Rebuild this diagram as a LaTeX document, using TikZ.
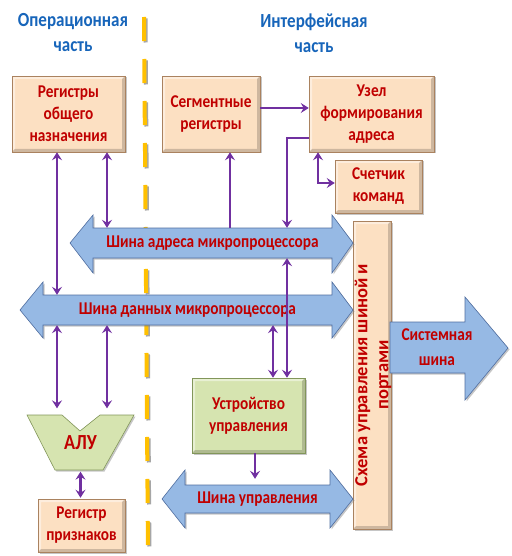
\documentclass[tikz,border=0pt]{standalone}
\usepackage{fontspec}
\setmainfont{Carlito}
\newfontfamily\narrowfont{Carlito}[FakeStretch=0.85]
\usetikzlibrary{shadows,arrows.meta,calc}
\definecolor{peach}{RGB}{252,224,194}
\definecolor{peachedge}{RGB}{170,130,95}
\definecolor{leaf}{RGB}{214,228,176}
\definecolor{leafedge}{RGB}{130,150,90}
\definecolor{busblue}{RGB}{150,185,228}
\definecolor{busedge}{RGB}{80,110,160}
\definecolor{txtred}{RGB}{192,0,0}
\definecolor{ttlblue}{RGB}{23,101,186}
\definecolor{arrpurple}{RGB}{112,48,160}
\definecolor{dashorange}{RGB}{255,192,0}
\tikzset{
  bevel/.style={path picture={
    \path (path picture bounding box.north west) coordinate (pNW)
          (path picture bounding box.south east) coordinate (pSE)
          (path picture bounding box.north east) coordinate (pNE)
          (path picture bounding box.south west) coordinate (pSW);
    \fill[white,opacity=0.45] (pSW) -- (pNW) -- (pNE) -- ([shift={(-3pt,-3pt)}]pNE) -- ([shift={(3pt,-3pt)}]pNW) -- ([shift={(3pt,3pt)}]pSW) -- cycle;
    \fill[black,opacity=0.18] (pSW) -- (pSE) -- (pNE) -- ([shift={(-3pt,-3pt)}]pNE) -- ([shift={(-3pt,3pt)}]pSE) -- ([shift={(3pt,3pt)}]pSW) -- cycle;
  }},
  boxtext/.style={text=txtred, align=center, font=\narrowfont\fontsize{18}{22}\selectfont\bfseries},
  peachbox/.style={rectangle, fill=peach, draw=peachedge, line width=0.5pt, bevel, boxtext,
    drop shadow={shadow xshift=1.5pt, shadow yshift=-1.5pt, opacity=0.45}},
  greenbox/.style={peachbox, fill=leaf, draw=leafedge},
  busbody/.style={rectangle, inner sep=0pt, boxtext},
  busshape/.style={fill=busblue, draw=busedge, line width=0.6pt,
    drop shadow={shadow xshift=1.5pt, shadow yshift=-1.5pt, opacity=0.45}},
  title/.style={text=ttlblue, align=center, font=\narrowfont\fontsize{20}{25}\selectfont\bfseries},
  link/.style={draw=arrpurple, line width=2.5pt},
  onearr/.style={link, -{Stealth[length=8pt,width=10pt,inset=3pt]}},
  biarr/.style={link, {Stealth[length=8pt,width=10pt,inset=3pt]}-{Stealth[length=8pt,width=10pt,inset=3pt]}},
  revarr/.style={link, {Stealth[length=8pt,width=10pt,inset=3pt]}-},
}
\begin{document}
\begin{tikzpicture}[x=1pt,y=-1pt]
\useasboundingbox (0,0) rectangle (511,556);
% column / row coordinates for connectors
\coordinate (x57) at (57,0);
\coordinate (x107) at (107,0);
\coordinate (x230) at (230,0);
\coordinate (x255) at (255,0);
\coordinate (x273) at (273,0);
\coordinate (x287) at (287,0);
\coordinate (x318) at (318,0);
\coordinate (y108) at (0,108);
\coordinate (y138) at (0,138);
\coordinate (y183) at (0,183);

% titles
\node[title] (t1) at (73,33) {Операционная\\часть};
\node[title] (t2) at (314,33) {Интерфейсная\\часть};

% dashed divider
\coordinate (dtop) at (144,17);
\coordinate (dbot) at (148,556);
\draw[black!35, line width=4pt, dash pattern=on 24pt off 18pt] ([shift={(1.5pt,-1.5pt)}]dtop) -- ([shift={(1.5pt,-1.5pt)}]dbot);
\draw[dashorange, line width=4pt, dash pattern=on 24pt off 18pt] (dtop) -- (dbot);

% boxes
\node[peachbox, minimum width=113pt, minimum height=76pt] (ron) at (68.5,114) {Регистры\\общего\\назначения};
\node[peachbox, minimum width=98pt, minimum height=76pt] (seg) at (211,114) {Сегментные\\регистры};
\node[peachbox, minimum width=125pt, minimum height=76pt] (uzel) at (371.5,114) {Узел\\формирования\\адреса};
\node[peachbox, minimum width=87pt, minimum height=53pt] (sch) at (378.5,186.5) {Счетчик\\команд};
\node[peachbox, minimum width=87pt, minimum height=53pt] (flag) at (81.5,525.5) {Регистр\\признаков};
\node[greenbox, minimum width=113pt, minimum height=75pt] (uu) at (248.5,415.5) {Устройство\\управления};
\node[peachbox, minimum width=38pt, minimum height=308pt] (bar) at (372,375) {};
\node[boxtext, rotate=90, font=\fontsize{18.5}{21}\selectfont\bfseries] (bartext) at (373,375) {Схема управления шиной и\\портами};

% bus shapes
\path[busshape] (70,243) -- (93,215) -- (93,228) -- (332,228) -- (332,215) -- (353,243) -- (332,273) -- (332,258) -- (93,258) -- (93,273) -- cycle;
\node[busbody, minimum width=239pt, minimum height=30pt] (ab) at (212.5,243) {Шина адреса микропроцессора};
\path[busshape] (20,310) -- (43,282) -- (43,295) -- (332,295) -- (332,282) -- (353,310) -- (332,338) -- (332,325) -- (43,325) -- (43,338) -- cycle;
\node[busbody, minimum width=289pt, minimum height=30pt] (db) at (187.5,310) {Шина данных микропроцессора};
\path[busshape] (162,499) -- (185,470) -- (185,485) -- (330,485) -- (330,470) -- (353,499) -- (330,528) -- (330,513) -- (185,513) -- (185,528) -- cycle;
\node[busbody, minimum width=145pt, minimum height=28pt] (cb) at (257.5,499) {Шина управления};
\path[busshape] (390,322) -- (465,322) -- (465,297) -- (508,348) -- (465,400) -- (465,373) -- (390,373) -- cycle;
\node[busbody, align=center, minimum width=94pt, minimum height=51pt, font=\narrowfont\fontsize{18}{25}\selectfont\bfseries] (sys) at (437,347.5) {Системная\\шина};

% ALU
\path[fill=leaf, draw=leafedge, line width=0.6pt, drop shadow={shadow xshift=1.5pt, shadow yshift=-1.5pt, opacity=0.45}]
  (27,415) -- (62,415) -- (80,431) -- (100,415) -- (134,415) -- (103,470) -- (55,470) -- cycle;
\node[busbody, font=\narrowfont\fontsize{21.5}{24}\selectfont\bfseries, minimum width=76pt, minimum height=55pt] (alu) at (80.5,443) {АЛУ};

% connectors
\draw[biarr] (ron.south -| x57) -- (db.north -| x57);
\draw[biarr] (ron.south -| x107) -- (ab.north -| x107);
\draw[biarr, shorten >=7pt] (db.south -| x57) -- (alu.north -| x57);
\draw[biarr, shorten >=7pt] (db.south -| x107) -- (alu.north -| x107);
\draw[biarr, shorten <=1pt, shorten >=1pt] (alu.south) -- (alu.south |- flag.north);
\draw[revarr] (seg.south -| x230) -- (ab.north -| x230);
\draw[onearr] (seg.east |- y108) -- (uzel.west |- y108);
\draw[onearr] (uzel.west |- y138) -| (ab.north -| x287);
\draw[biarr] (uzel.south -| x318) |- (sch.west |- y183);
\draw[biarr] (ab.south -| x287) -- (uu.north -| x287);
\draw[biarr] (db.south -| x273) -- (uu.north -| x273);
\draw[onearr, shorten >=6pt] (uu.south -| x255) -- (cb.north -| x255);
\end{tikzpicture}
\end{document}
